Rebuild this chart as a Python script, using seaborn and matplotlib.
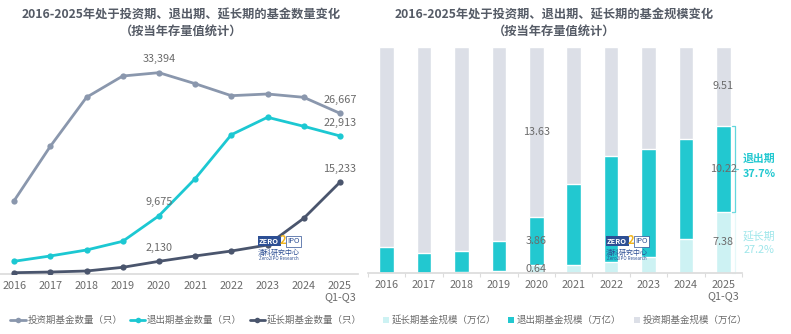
import numpy as np
import pandas as pd
import matplotlib
matplotlib.use("Agg")
import matplotlib.pyplot as plt
import seaborn as sns
from matplotlib.lines import Line2D

sns.set_theme(style="white")
plt.rcParams["font.family"] = ["Noto Sans CJK SC", "DejaVu Sans"]

# ---- data ----
years = ["2016", "2017", "2018", "2019", "2020", "2021", "2022", "2023", "2024", "2025\nQ1-Q3"]

# fund counts (只)
invest_count = [12180, 21190, 29310, 32840, 33394, 31570, 29580, 29860, 29310, 26667]
exit_count = [2140, 3020, 4010, 5450, 9675, 15820, 23110, 26000, 24510, 22913]
extend_count = [250, 360, 530, 1140, 2130, 3020, 3840, 4840, 9260, 15233]

# fund scale (万亿)
extend_scale = [0.02, 0.02, 0.06, 0.16, 0.64, 0.74, 1.13, 1.81, 3.90, 7.38]
exit_scale = [0.88, 0.99, 1.21, 1.78, 3.86, 7.54, 10.81, 11.76, 11.47, 10.22]
invest_scale = [7.00, 10.09, 11.43, 11.76, 13.63, 12.72, 11.06, 11.23, 10.63, 9.51]

count_labels = {  # series -> {index: text}
    "invest": {4: "33,394", 9: "26,667"},
    "exit": {4: "9,675", 9: "22,913"},
    "extend": {4: "2,130", 9: "15,233"},
}
scale_label_idx = [4, 9]

C_INV = "#8a97ad"
C_EXIT = "#1cc8d2"
C_EXT = "#4a556d"
B_EXT = "#cdf2f3"
B_EXIT = "#22c8d0"
B_INV = "#dcdfe7"
TXT = "#6b6b6b"
TITLE = "#555b66"

W, H = 791, 334
fig = plt.figure(figsize=(W / 100, H / 100), dpi=100)


def frac_box(x0, y0, x1, y1):
    return [x0 / W, 1 - y1 / H, (x1 - x0) / W, (y1 - y0) / H]


# ---- left: counts ----
axL = fig.add_axes(frac_box(0, 50, 358, 274.2))
pos = np.arange(len(years))
df_cnt = pd.DataFrame({
    "pos": np.tile(pos, 3),
    "value": invest_count + exit_count + extend_count,
    "series": ["invest"] * 10 + ["exit"] * 10 + ["extend"] * 10,
})
palette = {"invest": C_INV, "exit": C_EXIT, "extend": C_EXT}
for s in ["invest", "exit", "extend"]:
    sub = df_cnt[df_cnt.series == s]
    sns.lineplot(data=sub, x="pos", y="value", color=palette[s], marker="o",
                 markersize=4.5, markeredgewidth=0, linewidth=2.0, ax=axL,
                 legend=False, zorder=3)
    for i, t in count_labels[s].items():
        axL.annotate(t, (i, sub["value"].iloc[i]), xytext=(0, 6),
                     textcoords="offset points", ha="center", va="bottom",
                     fontsize=7.8, color=TXT)

axL.set_xlim(-0.39, 9.5)
axL.set_ylim(0, 37150)
axL.set_xticks(pos)
axL.set_xticklabels(years, fontsize=7.8, color=TXT, linespacing=1.1)
axL.set_yticks([])
axL.set_xlabel("")
axL.set_ylabel("")
for sp in ["top", "right", "left"]:
    axL.spines[sp].set_visible(False)
axL.spines["bottom"].set_color("#dcdcdc")
axL.tick_params(axis="x", length=0, pad=5)

# ---- right: scale shares (100% stacked) ----
axR = fig.add_axes(frac_box(368, 46.5, 742, 273.3))
tot = np.array(extend_scale) + np.array(exit_scale) + np.array(invest_scale)
s_ext = np.array(extend_scale) / tot
s_exit = np.array(exit_scale) / tot
s_inv = np.array(invest_scale) / tot
df_sc = pd.DataFrame({"year": years, "ext": s_ext, "ext_exit": s_ext + s_exit,
                      "all": s_ext + s_exit + s_inv})
sns.barplot(data=df_sc, x="year", y="all", color=B_INV, saturation=1, width=0.39, ax=axR)
sns.barplot(data=df_sc, x="year", y="ext_exit", color=B_EXIT, saturation=1, width=0.39, ax=axR)
sns.barplot(data=df_sc, x="year", y="ext", color=B_EXT, saturation=1, width=0.39, ax=axR)

for i in scale_label_idx:
    segs = [(0, s_ext[i], extend_scale[i]),
            (s_ext[i], s_ext[i] + s_exit[i], exit_scale[i]),
            (s_ext[i] + s_exit[i], 1.0, invest_scale[i])]
    for lo, hi, v in segs:
        axR.text(i, (lo + hi) / 2, f"{v:.2f}", ha="center", va="center",
                 fontsize=7.8, color=TXT, zorder=5)

axR.set_xlim(-0.34, 9.43)
axR.set_ylim(0, 1)
axR.set_yticks([])
axR.set_xlabel("")
axR.set_ylabel("")
axR.set_xticks(range(len(years)))
axR.set_xticklabels(years, fontsize=7.8, color=TXT, linespacing=1.1)
axR.set_xticks(np.arange(-0.5, 9.6, 1.0), minor=True)
axR.tick_params(axis="x", which="major", length=0, pad=5)
axR.tick_params(axis="x", which="minor", length=3, color="#dcdcdc", width=0.8, bottom=True)
for sp in ["top", "right", "left"]:
    axR.spines[sp].set_visible(False)
axR.spines["bottom"].set_color("#dcdcdc")

# bracket and share notes for the latest period
bx = 9.30
lo, hi = s_ext[9], s_ext[9] + s_exit[9]
br = "#63d7dd"
axR.plot([bx - 0.08, bx, bx, bx - 0.08], [hi, hi, lo, lo], color=br, lw=0.9, clip_on=False)
axR.plot([bx, bx + 0.08], [(lo + hi) / 2] * 2, color=br, lw=0.9, clip_on=False)
axR.plot([bx - 0.08, bx, bx, bx - 0.08], [lo - 0.005, lo - 0.005, 0.0, 0.0],
         color="#e6f8f9", lw=0.9, clip_on=False)
fig.text(759 / W, 1 - 159 / H, "退出期", ha="center", va="center", fontsize=7.8,
         color=B_EXIT, fontweight="bold")
fig.text(759 / W, 1 - 174 / H, f"{s_exit[9] * 100:.1f}%", ha="center", va="center",
         fontsize=7.8, color=B_EXIT, fontweight="bold")
fig.text(759 / W, 1 - 237 / H, "延长期", ha="center", va="center", fontsize=7.8,
         color="#9fe6ea")
fig.text(759 / W, 1 - 250 / H, f"{s_ext[9] * 100:.1f}%", ha="center", va="center",
         fontsize=7.8, color="#9fe6ea")

# ---- titles ----
for cx, t in [(181, "2016-2025年处于投资期、退出期、延长期的基金数量变化"),
              (554, "2016-2025年处于投资期、退出期、延长期的基金规模变化")]:
    fig.text(cx / W, 1 - 15 / H, t, ha="center", va="center", fontsize=8.8,
             fontweight="bold", color=TITLE)
    fig.text(cx / W, 1 - 31 / H, "（按当年存量值统计）", ha="center", va="center",
             fontsize=8.8, fontweight="bold", color=TITLE)

# ---- watermark logos ----
for lx, ly in [(259, 241), (607, 241)]:
    fig.text(lx / W, 1 - ly / H, "ZERO", fontsize=5.4, color="white", fontweight="bold",
             va="center", ha="left",
             bbox=dict(boxstyle="square,pad=0.2", fc="#2d4f94", ec="none"))
    fig.text((lx + 21) / W, 1 - (ly - 1) / H, "2", fontsize=8, color="#f2b51d",
             fontweight="bold", va="center", ha="left")
    fig.text((lx + 28) / W, 1 - ly / H, "IPO", fontsize=5.4, color="#2d4f94",
             va="center", ha="left",
             bbox=dict(boxstyle="square,pad=0.2", fc="white", ec="#2d4f94", lw=0.5))
    fig.text((lx + 20) / W, 1 - (ly + 12) / H, "清科研究中心", fontsize=5, color="#2d4f94",
             va="center", ha="center")
    fig.text((lx + 20) / W, 1 - (ly + 18) / H, "Zero2IPO Research", fontsize=3.2,
             color="#2d4f94", va="center", ha="center")

# ---- legends ----
hL = [Line2D([0], [0], color=c, lw=2, marker="o", markersize=4, markeredgewidth=0)
      for c in (C_INV, C_EXIT, C_EXT)]
fig.legend(hL, ["投资期基金数量（只）", "退出期基金数量（只）", "延长期基金数量（只）"],
           loc="center", bbox_to_anchor=(186 / W, 1 - 320 / H), ncol=3,
           frameon=False, fontsize=6.8, handlelength=1.6, handletextpad=0.2,
           columnspacing=0.8, labelcolor=TXT)
hR = [Line2D([0], [0], color=c, lw=0, marker="s", markersize=4.5, markeredgewidth=0)
      for c in (B_EXT, B_EXIT, B_INV)]
fig.legend(hR, ["延长期基金规模（万亿）", "退出期基金规模（万亿）", "投资期基金规模（万亿）"],
           loc="center", bbox_to_anchor=(565 / W, 1 - 320 / H), ncol=3,
           frameon=False, fontsize=6.8, handlelength=0.6, handletextpad=0.3,
           columnspacing=1.3, labelcolor=TXT)

fig.savefig("out.png", dpi=100, facecolor="white")
